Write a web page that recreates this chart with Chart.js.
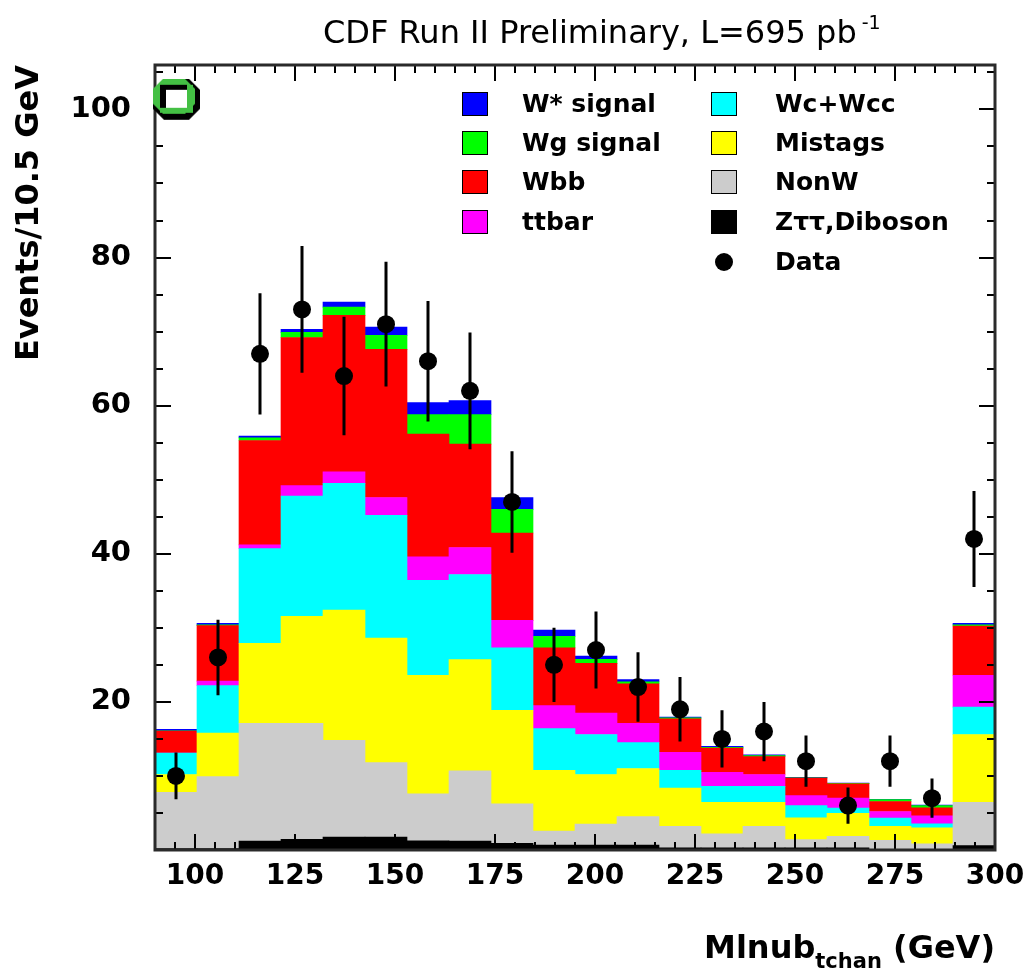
<!DOCTYPE html>
<html>
<head>
<meta charset="utf-8">
<script src="https://cdn.jsdelivr.net/npm/chart.js@4.4.1/dist/chart.umd.min.js"></script>
<style>
  html, body { margin: 0; padding: 0; background: #ffffff; }
  canvas { display: block; }
</style>
</head>
<body>
<canvas id="plot" width="1029" height="974"></canvas>
<script>
// Bin centres of the 10.5 GeV wide histogram bins (90 - 300 GeV)
const binCenters = [95.25, 105.75, 116.25, 126.75, 137.25, 147.75, 158.25, 168.75, 179.25, 189.75,
                    200.25, 210.75, 221.25, 231.75, 242.25, 252.75, 263.25, 273.75, 284.25, 294.75];

// Expected events per bin for each stacked process (bottom to top)
const zttDiboson  = [0.2, 0.2, 1.2, 1.45, 1.75, 1.75, 1.25, 1.2, 0.9, 0.65, 0.65, 0.65, 0.3, 0.3, 0.3, 0.3, 0.3, 0.1, 0.05, 0.6];
const nonW        = [7.6, 9.7, 15.9, 15.65, 13.05, 10.05, 6.35, 9.5, 5.35, 1.9, 2.85, 3.85, 2.9, 1.9, 2.9, 1.1, 1.55, 1.2, 0.8, 5.85];
const mistags     = [2.4, 5.9, 10.8, 14.45, 17.6, 16.8, 16.0, 15.0, 12.6, 8.2, 6.7, 6.5, 5.15, 4.25, 3.25, 2.95, 3.1, 1.9, 2.15, 9.15];
const wcWcc       = [2.9, 6.4, 12.8, 16.25, 17.1, 16.6, 12.8, 11.5, 8.45, 5.65, 5.4, 3.5, 2.4, 2.15, 2.15, 1.65, 0.7, 1.1, 0.55, 3.7];
const ttbar       = [0.0, 0.6, 0.5, 1.4, 1.55, 2.4, 3.2, 3.65, 3.7, 3.1, 2.9, 2.6, 2.45, 1.9, 1.6, 1.35, 1.35, 0.9, 1.05, 4.3];
const wbb         = [2.95, 7.5, 14.1, 20.0, 21.15, 20.0, 16.55, 13.95, 11.8, 7.8, 6.7, 5.35, 4.5, 3.25, 2.4, 2.35, 1.95, 1.35, 1.1, 6.65];
const wgSignal    = [0.05, 0.1, 0.35, 0.7, 1.1, 1.9, 2.65, 4.0, 3.2, 1.55, 0.55, 0.25, 0.15, 0.1, 0.15, 0.05, 0.05, 0.25, 0.3, 0.15];
const wStarSignal = [0.2, 0.2, 0.25, 0.4, 0.7, 1.1, 1.6, 1.9, 1.6, 0.85, 0.45, 0.3, 0.1, 0.15, 0.1, 0.05, 0.05, 0.05, 0.05, 0.2];

// Observed events per bin
const dataCounts = [10, 26, 67, 73, 64, 71, 66, 62, 47, 25, 27, 22, 19, 15, 16, 12, 6, 12, 7, 42];

// Axis tick labels
const xTickLabels = [100, 125, 150, 175, 200, 225, 250, 275, 300];
const yTickLabels = [20, 40, 60, 80, 100];

// Position of the small canvas badge in the upper-left corner (axis units)
const badgePoint = [{ x: 95.5, y: 101.3 }];

const FONT = 'DejaVu Sans';

const processes = [
  { label: 'Z\u03c4\u03c4,Diboson', values: zttDiboson,  color: '#000000' },
  { label: 'NonW',                   values: nonW,        color: '#cccccc' },
  { label: 'Mistags',                values: mistags,     color: '#ffff00' },
  { label: 'Wc+Wcc',                 values: wcWcc,       color: '#00ffff' },
  { label: 'ttbar',                  values: ttbar,       color: '#ff00ff' },
  { label: 'Wbb',                    values: wbb,         color: '#ff0000' },
  { label: 'Wg signal',              values: wgSignal,    color: '#00ff00' },
  { label: 'W* signal',              values: wStarSignal, color: '#0000ff' }
];

const barSets = processes.map(p => ({
  type: 'bar',
  label: p.label,
  data: binCenters.map((x, i) => ({ x: x, y: p.values[i] })),
  backgroundColor: p.color,
  borderWidth: 0,
  barPercentage: 1.0,
  categoryPercentage: 1.0,
  xAxisID: 'x',
  yAxisID: 'y',
  order: 10
}));

const DATA_INDEX = barSets.length;

const dataSet = {
  type: 'scatter',
  label: 'Data',
  data: binCenters.map((x, i) => ({ x: x, y: dataCounts[i] })),
  backgroundColor: '#000000',
  borderColor: '#000000',
  pointRadius: 9,
  pointHoverRadius: 9,
  pointBorderWidth: 0,
  showLine: false,
  xAxisID: 'x',
  yAxisID: 'yPts',
  order: 1
};

function makeBadge() {
  const c = document.createElement('canvas');
  c.width = 48; c.height = 42;
  const g = c.getContext('2d');
  const oct = (x0, y0, x1, y1, k, col) => {
    g.beginPath();
    g.moveTo(x0 + k, y0); g.lineTo(x1 - k, y0); g.lineTo(x1, y0 + k); g.lineTo(x1, y1 - k);
    g.lineTo(x1 - k, y1); g.lineTo(x0 + k, y1); g.lineTo(x0, y1 - k); g.lineTo(x0, y0 + k);
    g.closePath(); g.fillStyle = col; g.fill();
  };
  oct(0, 0, 47, 41, 11, '#000000');
  oct(0, 0, 42, 35, 10, '#44c044');
  g.fillStyle = '#44c044'; g.fillRect(7, 6, 33, 28);
  g.fillStyle = '#000000'; g.fillRect(7, 6, 27, 23);
  g.fillStyle = '#ffffff'; g.fillRect(13, 11, 21, 18);
  return c;
}

const badgeSet = {
  type: 'scatter',
  label: '',
  data: badgePoint,
  pointStyle: makeBadge(),
  pointRadius: 20,
  showLine: false,
  clip: false,
  xAxisID: 'x',
  yAxisID: 'yPts',
  order: 0
};

// Frame, inward ticks on all four sides, and sqrt(N) error bars
function drawFrameTicksErrors(chart) {
  const { ctx, chartArea: a, scales } = chart;
  const xs = scales.x, ys = scales.y;
  ctx.save();
  ctx.strokeStyle = '#000000';
  ctx.lineWidth = 2;
  ctx.beginPath();
  for (let v = 95; v < 300; v += 5) {
    const px = Math.round(xs.getPixelForValue(v));
    const len = (v % 25 === 0) ? 16 : 8;
    ctx.moveTo(px, a.bottom); ctx.lineTo(px, a.bottom - len);
    ctx.moveTo(px, a.top); ctx.lineTo(px, a.top + len);
  }
  for (let v = 5; v < 106; v += 5) {
    const py = Math.round(ys.getPixelForValue(v));
    const len = (v % 20 === 0) ? 16 : 8;
    ctx.moveTo(a.left, py); ctx.lineTo(a.left + len, py);
    ctx.moveTo(a.right, py); ctx.lineTo(a.right - len, py);
  }
  ctx.stroke();

  ctx.strokeStyle = '#2a2a2a';
  ctx.lineWidth = 3;
  ctx.strokeRect(a.left, a.top, a.right - a.left, a.bottom - a.top);

  // statistical error bars on the observed counts
  const yp = scales.yPts;
  ctx.strokeStyle = '#000000';
  ctx.lineWidth = 3;
  ctx.beginPath();
  dataCounts.forEach((n, i) => {
    const px = xs.getPixelForValue(binCenters[i]);
    const err = Math.sqrt(n);
    ctx.moveTo(px, yp.getPixelForValue(n + err));
    ctx.lineTo(px, yp.getPixelForValue(Math.max(0, n - err)));
  });
  ctx.stroke();
  ctx.restore();
}

const framePlugin = {
  id: 'frameTicksErrors',
  beforeDatasetDraw(chart, args) {
    if (args.index === DATA_INDEX) drawFrameTicksErrors(chart);
  }
};

// Two-column legend inside the plot area
const legendPlugin = {
  id: 'boxLegend',
  afterDraw(chart) {
    const ctx = chart.ctx;
    const byLabel = {};
    chart.data.datasets.forEach(d => { byLabel[d.label] = d; });
    const columns = [
      { box: 462, text: 522, items: ['W* signal', 'Wg signal', 'Wbb', 'ttbar'] },
      { box: 711, text: 775, items: ['Wc+Wcc', 'Mistags', 'NonW', 'Z\u03c4\u03c4,Diboson', 'Data'] }
    ];
    const rows = [104, 143, 182, 222, 262];
    ctx.save();
    ctx.font = 'bold 25px "' + FONT + '"';
    ctx.textBaseline = 'middle';
    ctx.textAlign = 'left';
    columns.forEach(col => {
      col.items.forEach((name, r) => {
        const ds = byLabel[name];
        const cy = rows[r];
        if (name === 'Data') {
          ctx.fillStyle = ds.backgroundColor;
          ctx.beginPath();
          ctx.arc(col.box + 13, cy, 9, 0, Math.PI * 2);
          ctx.fill();
        } else {
          ctx.fillStyle = ds.backgroundColor;
          ctx.fillRect(col.box, cy - 12, 26, 24);
          ctx.strokeStyle = '#000000';
          ctx.lineWidth = 1;
          ctx.strokeRect(col.box + 0.5, cy - 11.5, 25, 23);
        }
        ctx.fillStyle = '#000000';
        ctx.fillText(name, col.text, cy + 1);
      });
    });
    ctx.restore();
  }
};

// Canvas title and axis titles (with super/subscripts)
const titlePlugin = {
  id: 'titles',
  afterDraw(chart) {
    const ctx = chart.ctx;
    const a = chart.chartArea;
    ctx.save();
    ctx.fillStyle = '#000000';
    ctx.textBaseline = 'alphabetic';

    // top title
    ctx.textAlign = 'left';
    ctx.font = '32px "' + FONT + '"';
    const main = 'CDF Run II Preliminary, L=695 pb';
    ctx.fillText(main, 323, 43);
    const w = ctx.measureText(main).width;
    ctx.font = '19px "' + FONT + '"';
    ctx.fillText('-1', 323 + w + 5, 29);

    // x-axis title, right aligned to the frame
    ctx.font = 'bold 32px "' + FONT + '"';
    const tail = ' (GeV)';
    const head = 'Mlnub';
    const wTail = ctx.measureText(tail).width;
    const wHead = ctx.measureText(head).width;
    ctx.font = 'bold 21px "' + FONT + '"';
    const sub = 'tchan';
    const wSub = ctx.measureText(sub).width;
    const xEnd = a.right;
    const xSub = xEnd - wTail - wSub;
    const xHead = xSub - wHead;
    ctx.fillText(sub, xSub, 968);
    ctx.font = 'bold 32px "' + FONT + '"';
    ctx.fillText(head, xHead, 958);
    ctx.fillText(tail, xEnd - wTail, 958);

    // y-axis title, aligned to the top of the frame
    ctx.save();
    ctx.translate(30, a.top);
    ctx.rotate(-Math.PI / 2);
    ctx.textAlign = 'right';
    ctx.textBaseline = 'middle';
    ctx.font = 'bold 32px "' + FONT + '"';
    ctx.fillText('Events/10.5 GeV', 0, 0);
    ctx.restore();

    ctx.restore();
  }
};

new Chart(document.getElementById('plot'), {
  type: 'bar',
  data: { datasets: [...barSets, dataSet, badgeSet] },
  options: {
    responsive: false,
    animation: false,
    devicePixelRatio: 1,
    layout: { padding: { left: 0, right: 34, top: 65, bottom: 0 } },
    plugins: { legend: { display: false }, tooltip: { enabled: false }, title: { display: false } },
    scales: {
      x: {
        type: 'linear',
        min: 90, max: 300,
        offset: false,
        stacked: true,
        grid: { display: false, drawTicks: false, offset: false },
        border: { display: false },
        afterBuildTicks: s => { s.ticks = xTickLabels.map(v => ({ value: v })); },
        afterFit: s => { s.height = 124; s.paddingLeft = 0; s.paddingRight = 0; },
        ticks: {
          autoSkip: false, maxRotation: 0, padding: 10,
          color: '#000000',
          font: { family: FONT, weight: 'bold', size: 28 }
        }
      },
      y: {
        type: 'linear',
        min: 0, max: 106,
        stacked: true,
        grid: { display: false, drawTicks: false },
        border: { display: false },
        afterBuildTicks: s => { s.ticks = yTickLabels.map(v => ({ value: v })); },
        afterFit: s => { s.width = 155; s.paddingTop = 0; s.paddingBottom = 0; },
        ticks: {
          padding: 24,
          color: '#000000',
          font: { family: FONT, weight: 'bold', size: 29 }
        }
      },
      yPts: {
        type: 'linear',
        display: false,
        min: 0, max: 106,
        stacked: false
      }
    }
  },
  plugins: [framePlugin, legendPlugin, titlePlugin]
});
</script>
</body>
</html>
